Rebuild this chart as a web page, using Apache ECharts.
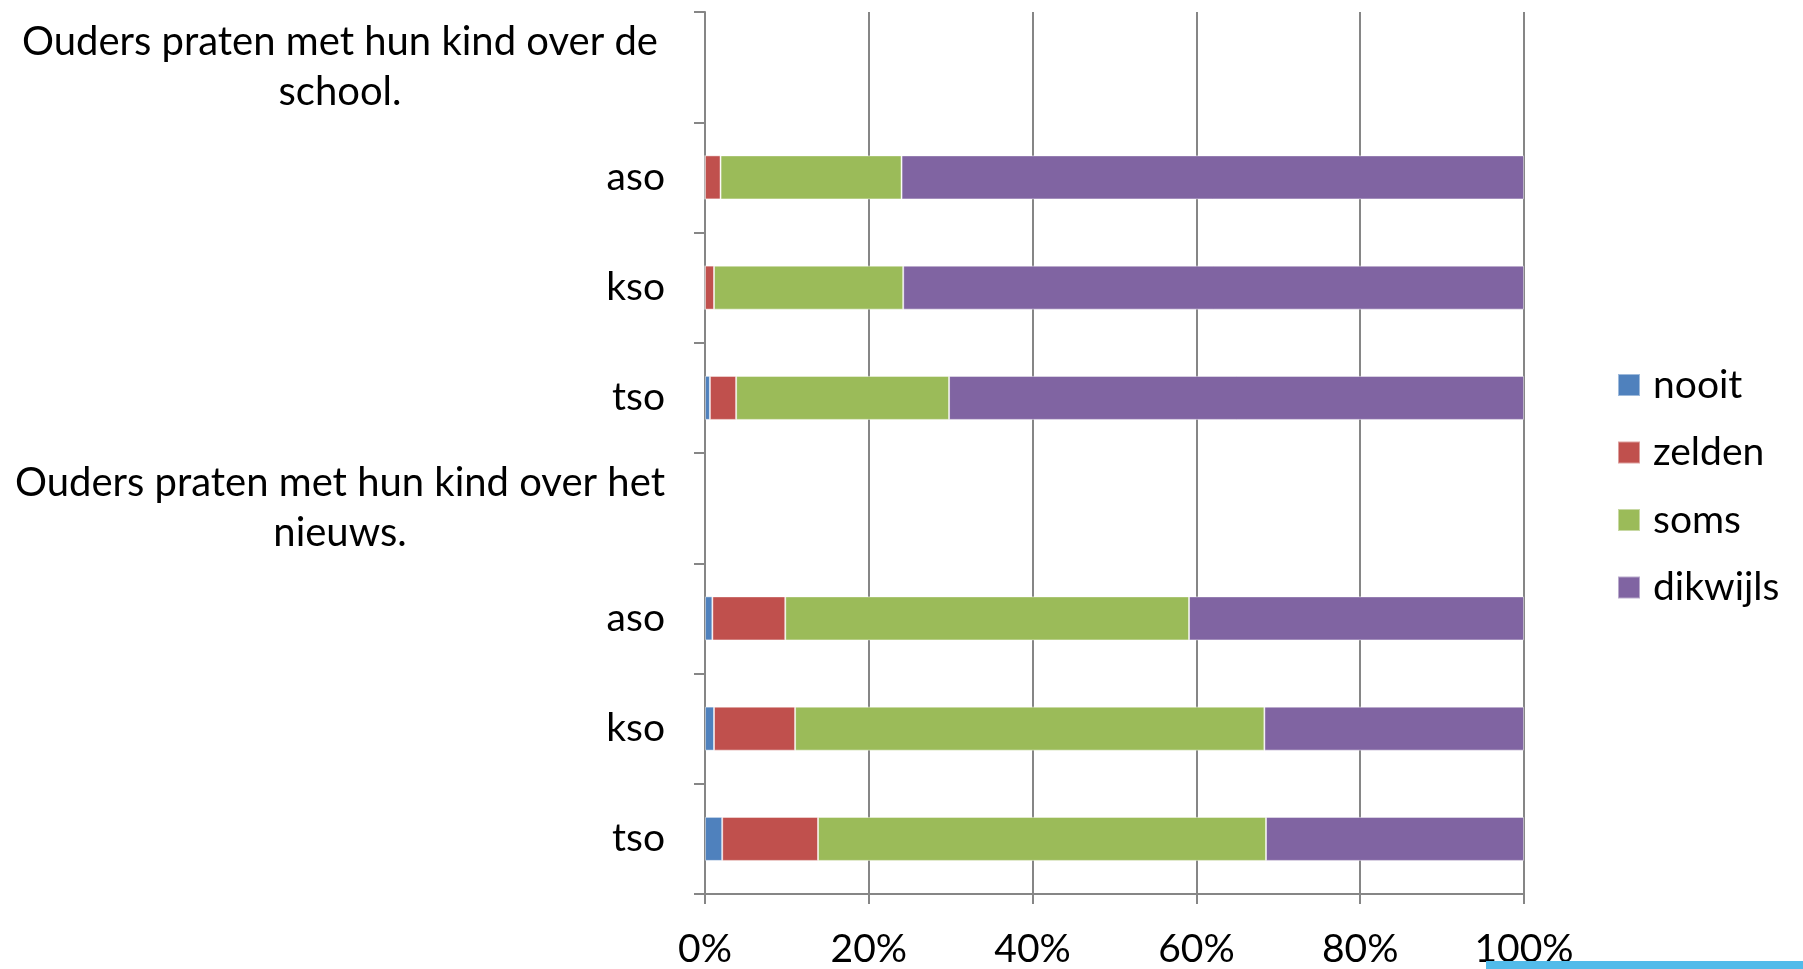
<!DOCTYPE html>
<html>
<head>
<meta charset="utf-8">
<script src="https://cdn.jsdelivr.net/npm/echarts@6/dist/echarts.min.js"></script>
<style>
  html, body { margin: 0; padding: 0; background: #ffffff; }
  #chart { width: 1803px; height: 969px; }
</style>
</head>
<body>
<div id="chart"></div>
<script>
// Rows from top to bottom; two-line rows are section headers without bars.
const categories = [
  'Ouders praten met hun kind over de\nschool.',
  'aso', 'kso', 'tso',
  'Ouders praten met hun kind over het\nnieuws.',
  'aso', 'kso', 'tso'
];
const seriesNames = ['nooit', 'zelden', 'soms', 'dikwijls'];
// Percentages per row (null on header rows)
const nooit    = [null, 0.0, 0.0, 0.6, null, 0.9, 1.1, 2.1];
const zelden   = [null, 1.9, 1.1, 3.2, null, 8.9, 9.9, 11.7];
const soms     = [null, 22.1, 23.1, 26.0, null, 49.3, 57.3, 54.7];
const dikwijls = [null, 76.0, 75.8, 70.2, null, 40.9, 31.7, 31.5];
const xTicks = [0, 20, 40, 60, 80, 100];

const colors = ['#4F81BD', '#C0504D', '#9BBB59', '#8064A2'];
const values = [nooit, zelden, soms, dikwijls];
const FONT = 'Lato, Carlito, "Open Sans", sans-serif';
const FS = 39;
const GRAY = '#868686';

const chart = echarts.init(document.getElementById('chart'), null, { renderer: 'canvas' });

chart.setOption({
  animation: false,
  backgroundColor: '#ffffff',
  textStyle: { fontFamily: FONT },
  grid: { left: 705, right: 279, top: 12, bottom: 74, containLabel: false },
  xAxis: {
    type: 'value',
    min: xTicks[0],
    max: xTicks[xTicks.length - 1],
    interval: xTicks[1] - xTicks[0],
    axisLine: { show: true, lineStyle: { color: GRAY, width: 2 } },
    axisTick: { show: true, length: 10, lineStyle: { color: GRAY, width: 2 } },
    splitLine: { show: true, lineStyle: { color: GRAY, width: 2 } },
    axisLabel: {
      margin: 36,
      color: '#000000',
      fontSize: FS,
      fontFamily: FONT,
      formatter: v => v + '%'
    }
  },
  yAxis: {
    type: 'category',
    inverse: true,
    data: categories,
    boundaryGap: true,
    axisLine: { show: true, lineStyle: { color: GRAY, width: 2 } },
    axisTick: { show: true, length: 11, lineStyle: { color: GRAY, width: 2 } },
    splitLine: { show: false },
    axisLabel: {
      margin: 40,
      color: '#000000',
      fontSize: FS,
      fontFamily: FONT,
      formatter: v => v.indexOf('\n') >= 0
        ? v.split('\n').map(line => '{h|' + line + '}').join('\n')
        : v,
      rich: {
        h: {
          width: 650,
          align: 'center',
          fontSize: 40,
          lineHeight: 50,
          fontFamily: FONT,
          color: '#000000'
        }
      }
    }
  },
  legend: {
    orient: 'vertical',
    left: 1612,
    top: 360,
    itemWidth: 22,
    itemHeight: 22,
    itemGap: 27.5,
    icon: 'rect',
    data: seriesNames,
    textStyle: {
      fontSize: FS,
      lineHeight: 40,
      fontFamily: FONT,
      color: '#000000',
      padding: [0, 0, 0, 8]
    }
  },
  series: seriesNames.map((name, i) => ({
    name: name,
    type: 'bar',
    stack: 'total',
    barWidth: 44,
    itemStyle: {
      color: colors[i],
      borderColor: 'rgba(255,255,255,0.45)',
      borderWidth: 1
    },
    emphasis: { disabled: true },
    data: values[i]
  })),
  graphic: [{
    type: 'rect',
    z: 100,
    shape: { x: 1486, y: 961, width: 317, height: 8 },
    style: { fill: '#52BBEA' }
  }]
});
</script>
</body>
</html>
